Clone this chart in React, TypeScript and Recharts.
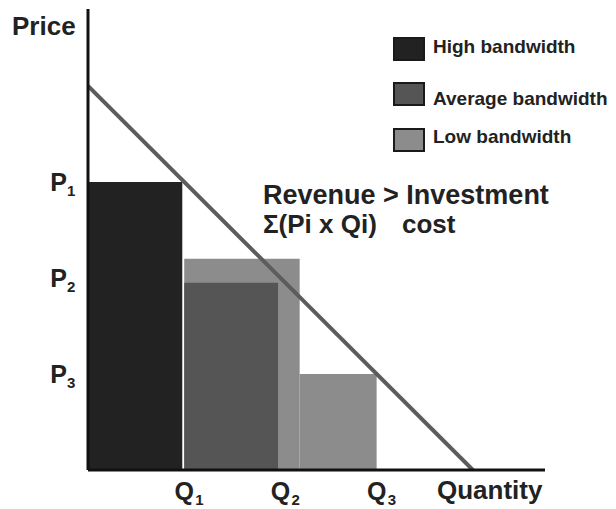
import { ComposedChart, Line, XAxis, YAxis, ReferenceArea } from 'recharts';

const FONT = "'Liberation Sans', Arial, Helvetica, sans-serif";

// demand curve end points
const demand = [
    { q: 0, p: 80 },
    { q: 80, p: 0 },
];

// revenue blocks: [q from, q to, price]
const lowBlocks = [
    { q1: 20, q2: 44, p: 44 },
    { q1: 44, q2: 60, p: 20 },
];
const avgBlocks = [{ q1: 20, q2: 39.5, p: 39 }];
const highBlocks = [{ q1: 0, q2: 19.6, p: 60 }];

const qTicks = [20, 40, 60];
const qLabels = ['1', '2', '3'];
const pTicks = [20, 40, 60];
const pLabels = ['3', '2', '1'];

const legend = [
    { name: 'High bandwidth', color: '#222222', top: 37, text: 53 },
    { name: 'Average bandwidth', color: '#555555', top: 82, text: 105 },
    { name: 'Low bandwidth', color: '#8c8c8c', top: 128, text: 143 },
];

const QTick = (props: any) => {
    const { x, y, payload } = props;
    const i = qTicks.indexOf(payload.value);
    return (
        <g fontFamily={FONT} fontWeight="bold" fill="#222">
            <text x={x} y={y + 30} textAnchor="middle" fontSize={25}>Q</text>
            <text x={x + 11} y={y + 35} fontSize={15}>{qLabels[i]}</text>
        </g>
    );
};

const PTick = (props: any) => {
    const { x, y, payload } = props;
    const i = pTicks.indexOf(payload.value);
    return (
        <g fontFamily={FONT} fontWeight="bold" fill="#222">
            <text x={x - 9} y={y + 9} textAnchor="end" fontSize={25}>P</text>
            <text x={x - 9} y={y + 14} fontSize={15}>{pLabels[i]}</text>
        </g>
    );
};

export default function App() {
    return (
        <div style={{ position: 'absolute', left: 0, top: 0, width: 616, height: 509, background: '#fff', fontFamily: FONT }}>
            <ComposedChart
                width={616}
                height={509}
                data={demand}
                margin={{ top: 9, right: 71, bottom: 0, left: 0 }}
            >
                <XAxis
                    dataKey="q"
                    type="number"
                    domain={[0, 95]}
                    allowDataOverflow
                    ticks={qTicks}
                    tick={<QTick />}
                    tickLine={false}
                    tickSize={0}
                    tickMargin={0}
                    height={39}
                    axisLine={{ stroke: '#111', strokeWidth: 3 }}
                />
                <YAxis
                    type="number"
                    domain={[0, 96]}
                    allowDataOverflow
                    ticks={pTicks}
                    tick={<PTick />}
                    tickLine={false}
                    tickSize={0}
                    tickMargin={12}
                    width={88}
                    axisLine={{ stroke: '#111', strokeWidth: 3 }}
                />
                {lowBlocks.map((b, i) => (
                    <ReferenceArea key={'l' + i} x1={b.q1} x2={b.q2} y1={0} y2={b.p} fill="#8c8c8c" fillOpacity={1} stroke="none" />
                ))}
                {avgBlocks.map((b, i) => (
                    <ReferenceArea key={'a' + i} x1={b.q1} x2={b.q2} y1={0} y2={b.p} fill="#555555" fillOpacity={1} stroke="none" />
                ))}
                {highBlocks.map((b, i) => (
                    <ReferenceArea key={'h' + i} x1={b.q1} x2={b.q2} y1={0} y2={b.p} fill="#222222" fillOpacity={1} stroke="none" />
                ))}
                <Line
                    dataKey="p"
                    stroke="#5c5c5c"
                    strokeWidth={4}
                    dot={false}
                    activeDot={false}
                    isAnimationActive={false}
                />
            </ComposedChart>

            <div style={{ position: 'absolute', left: 12, top: 12, fontSize: 26, fontWeight: 'bold', color: '#222', lineHeight: '28px' }}>Price</div>
            <div style={{ position: 'absolute', left: 437, top: 476, fontSize: 26, fontWeight: 'bold', color: '#222', lineHeight: '28px' }}>Quantity</div>

            <div style={{ position: 'absolute', left: 263, top: 181, fontSize: 27, fontWeight: 'bold', color: '#222', lineHeight: '28px', whiteSpace: 'nowrap' }}>Revenue &gt; Investment</div>
            <div style={{ position: 'absolute', left: 263, top: 210, fontSize: 26, fontWeight: 'bold', color: '#222', lineHeight: '28px', whiteSpace: 'nowrap' }}>Σ(Pi x Qi)</div>
            <div style={{ position: 'absolute', left: 402, top: 210, fontSize: 26, fontWeight: 'bold', color: '#222', lineHeight: '28px', whiteSpace: 'nowrap' }}>cost</div>

            {legend.map((l) => (
                <div key={l.name}>
                    <div style={{ position: 'absolute', left: 393, top: l.top, width: 28, height: 20, background: l.color, border: '2px solid #1a1a1a' }} />
                    <div style={{ position: 'absolute', left: 433, top: l.text - 16, fontSize: 19, fontWeight: 'bold', color: '#222', lineHeight: '20px', whiteSpace: 'nowrap' }}>{l.name}</div>
                </div>
            ))}
        </div>
    );
}
